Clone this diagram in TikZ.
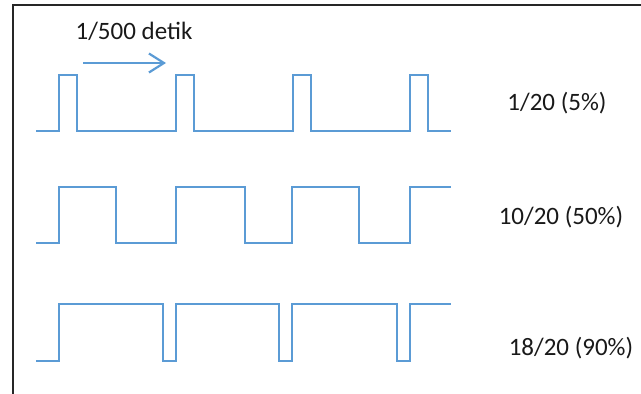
\documentclass[tikz,border=0pt]{standalone}
\usepackage{fontspec}
\setmainfont{Carlito}
\usetikzlibrary{arrows.meta}
\definecolor{wave}{RGB}{91,155,213}
\begin{document}
\begin{tikzpicture}[x=1pt,y=-1pt,
  wavestyle/.style={draw=wave,line width=1.8pt,line join=miter},
  lbl/.style={font=\fontsize{25}{27}\selectfont,text=black!90,inner sep=0pt}]
\useasboundingbox (0,0) rectangle (641,394);
% frame
\draw[line width=2pt,black!85] (12.5,394) -- (12.5,5) -- (641,5);
% wave 1 (5%)
\draw[wavestyle] (36,131) -- (59,131) -- (59,75) -- (77,75) -- (77,131)
  -- (176,131) -- (176,75) -- (194,75) -- (194,131)
  -- (293,131) -- (293,75) -- (311,75) -- (311,131)
  -- (410,131) -- (410,75) -- (428,75) -- (428,131) -- (451,131);
% wave 2 (50%)
\draw[wavestyle] (36,243) -- (59,243) -- (59,187) -- (116,187) -- (116,243)
  -- (176,243) -- (176,187) -- (245,187) -- (245,243)
  -- (292,243) -- (292,187) -- (359,187) -- (359,243)
  -- (410,243) -- (410,187) -- (451,187);
% wave 3 (90%)
\draw[wavestyle] (36,361) -- (59,361) -- (59,304) -- (163,304) -- (163,361)
  -- (176,361) -- (176,304) -- (279,304) -- (279,361)
  -- (292,361) -- (292,304) -- (397,304) -- (397,361)
  -- (410,361) -- (410,304) -- (451,304);
% period label and arrow
\node[lbl] (period) at (134,31) {1/500 detik};
\coordinate (ps) at (83,63);
\coordinate (pe) at (166,63);
\draw[draw=wave,line width=2.2pt,-{Straight Barb[length=15pt,width=19pt,line width=2.2pt]}] (ps) -- (pe);
% duty labels
\node[lbl] (d1) at (557,103) {1/20 (5\%)};
\node[lbl] (d2) at (561,217) {10/20 (50\%)};
\node[lbl] (d3) at (571,348) {18/20 (90\%)};
\end{tikzpicture}
\end{document}
